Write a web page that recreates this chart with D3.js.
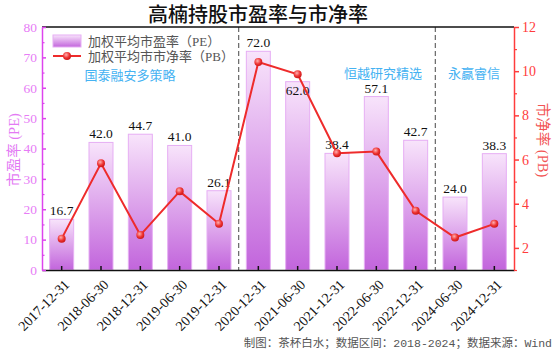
<!DOCTYPE html>
<html lang="zh">
<head>
    <meta charset="utf-8" />
    <title>高楠持股市盈率与市净率</title>
    <style>
        body { margin: 0; background: #fff; }
        .serif { font-family: "Liberation Serif", "Noto Sans CJK SC", serif; }
        .cjk { font-family: "Noto Sans CJK SC", sans-serif; }
    </style>
</head>
<body>
    <div id="graph"></div>
    <script src="https://d3js.org/d3.v7.min.js"></script>
    <script>
        var dates = ["2017-12-31", "2018-06-30", "2018-12-31", "2019-06-30", "2019-12-31", "2020-12-31",
                     "2021-06-30", "2021-12-31", "2022-06-30", "2022-12-31", "2024-06-30", "2024-12-31"];
        var peValues = [16.7, 42.0, 44.7, 41.0, 26.1, 72.0, 62.0, 38.4, 57.1, 42.7, 24.0, 38.3];
        var pbValues = [2.42, 5.83, 2.58, 4.56, 3.09, 10.41, 9.86, 6.29, 6.36, 3.68, 2.47, 3.09];
        var leftTicks = [0, 10, 20, 30, 40, 50, 60, 70, 80];
        var rightTicks = [2, 4, 6, 8, 10, 12];
        var fundNames = ["国泰融安多策略", "恒越研究精选", "永赢睿信"];

        var W = 554, H = 353;
        // plot box (note: "top" is reserved on window, so use pl/pr/pt/pb)
        var pl = 42, pr = 514, pt = 27, pb = 270;

        var svg = d3.select("#graph").append("svg")
            .attr("width", W)
            .attr("height", H);

        var defs = svg.append("defs");
        var barGrad = defs.append("linearGradient")
            .attr("id", "barGrad")
            .attr("x1", 0).attr("y1", 0).attr("x2", 0).attr("y2", 1);
        barGrad.append("stop").attr("offset", "0%").attr("stop-color", "#f8e4fb");
        barGrad.append("stop").attr("offset", "100%").attr("stop-color", "#c265dc");

        var ballGrad = defs.append("radialGradient")
            .attr("id", "ballGrad")
            .attr("cx", "40%").attr("cy", "35%").attr("r", "65%");
        ballGrad.append("stop").attr("offset", "0%").attr("stop-color", "#ffb0b0");
        ballGrad.append("stop").attr("offset", "60%").attr("stop-color", "#ee3333");
        ballGrad.append("stop").attr("offset", "100%").attr("stop-color", "#cc1818");

        var x = d3.scaleBand()
            .domain(dates)
            .range([pl, pr])
            .paddingInner(0.39)
            .paddingOuter(0.195);
        var yL = d3.scaleLinear().domain([0, 80]).range([pb, pt]);
        var yR = d3.scaleLinear().domain([1, 12]).range([pb, pt]);

        // title
        svg.append("text")
            .attr("class", "cjk")
            .attr("x", 258)
            .attr("y", 22)
            .attr("text-anchor", "middle")
            .style("font-size", "20px")
            .style("font-weight", 500)
            .style("fill", "#111")
            .text("高楠持股市盈率与市净率");

        // bars
        svg.selectAll(".bar")
            .data(peValues)
            .enter()
            .append("rect")
            .attr("class", "bar")
            .attr("x", function (d, i) { return x(dates[i]); })
            .attr("width", x.bandwidth())
            .attr("y", function (d) { return yL(d); })
            .attr("height", function (d) { return pb - yL(d); })
            .style("fill", "url(#barGrad)")
            .style("stroke", "#e6aef4")
            .style("stroke-width", 1);

        // value labels (dropped inside the bar when the PB dot sits just above)
        svg.selectAll(".lbl")
            .data(peValues)
            .enter()
            .append("text")
            .attr("class", "lbl serif")
            .attr("x", function (d, i) { return x(dates[i]) + x.bandwidth() / 2; })
            .attr("y", function (d, i) {
                var gap = yL(d) - yR(pbValues[i]);
                return (gap > 3 && gap < 15) ? yL(d) + 13 : yL(d) - 4;
            })
            .attr("text-anchor", "middle")
            .style("font-size", "13.5px")
            .style("fill", "#111")
            .text(function (d) { return d.toFixed(1); });

        // group separators
        [5, 10].forEach(function (k) {
            var sx = (x(dates[k - 1]) + x.bandwidth() + x(dates[k])) / 2;
            svg.append("line")
                .attr("x1", sx).attr("x2", sx)
                .attr("y1", pt).attr("y2", pb)
                .style("stroke", "#666")
                .style("stroke-width", 1.2)
                .style("stroke-dasharray", "5,3");
        });

        // fund names
        var namePos = [[130, 80], [383, 78], [474, 78]];
        fundNames.forEach(function (n, i) {
            svg.append("text")
                .attr("class", "cjk")
                .attr("x", namePos[i][0])
                .attr("y", namePos[i][1])
                .attr("text-anchor", "middle")
                .style("font-size", "13px")
                .style("fill", "#45b2f2")
                .text(n);
        });

        // PB line
        var line = d3.line()
            .x(function (d, i) { return x(dates[i]) + x.bandwidth() / 2; })
            .y(function (d) { return yR(d); });
        svg.append("path")
            .datum(pbValues)
            .attr("d", line)
            .style("fill", "none")
            .style("stroke", "#ee2b2b")
            .style("stroke-width", 2);
        svg.selectAll(".dot")
            .data(pbValues)
            .enter()
            .append("circle")
            .attr("class", "dot")
            .attr("cx", function (d, i) { return x(dates[i]) + x.bandwidth() / 2; })
            .attr("cy", function (d) { return yR(d); })
            .attr("r", 4)
            .style("fill", "url(#ballGrad)");

        // top frame line
        svg.append("line")
            .attr("x1", pl).attr("x2", pr)
            .attr("y1", pt).attr("y2", pt)
            .style("stroke", "#111").style("stroke-width", 1.5);

        // bottom axis
        var xAxis = svg.append("g")
            .attr("class", "serif")
            .attr("transform", "translate(0," + pb + ")")
            .call(d3.axisBottom(x).tickSize(-4).tickSizeOuter(0));
        xAxis.select(".domain").style("stroke", "#111").style("stroke-width", 1.5);
        xAxis.selectAll(".tick line").style("stroke", "#111").style("stroke-width", 1.5);
        xAxis.selectAll(".tick text")
            .attr("y", 0)
            .attr("dy", "0.35em")
            .attr("text-anchor", "end")
            .attr("transform", "translate(5,12) rotate(-45)")
            .style("font-size", "14px")
            .style("font-family", "Liberation Serif")
            .style("fill", "#111");

        // left axis
        var magenta = "#dd44ee";
        var yAxisL = svg.append("g")
            .attr("class", "serif")
            .attr("transform", "translate(" + pl + ",0)")
            .call(d3.axisLeft(yL).tickValues(leftTicks).tickSizeInner(-4).tickSizeOuter(0).tickPadding(5));
        yAxisL.select(".domain").style("stroke", magenta).style("stroke-width", 1.5);
        yAxisL.selectAll(".tick line").style("stroke", magenta).style("stroke-width", 1.5);
        yAxisL.selectAll(".tick text")
            .style("font-size", "13.5px")
            .style("font-family", "Liberation Serif")
            .style("fill", "#e77cf6");
        var minorL = svg.append("g")
            .attr("transform", "translate(" + pl + ",0)")
            .call(d3.axisLeft(yL).tickValues(leftTicks.slice(1).map(function (v) { return v - 5; }))
                .tickSizeInner(-2.5).tickSizeOuter(0).tickFormat(""));
        minorL.select(".domain").remove();
        minorL.selectAll(".tick line").style("stroke", magenta).style("stroke-width", 1.2);

        svg.append("text")
            .attr("transform", "translate(19,150) rotate(-90)")
            .attr("text-anchor", "middle")
            .attr("class", "serif")
            .style("font-size", "14.5px")
            .style("fill", "#e37af4")
            .text("市盈率 (PE)");

        // right axis
        var red = "#ff3c3c";
        var yAxisR = svg.append("g")
            .attr("class", "serif")
            .attr("transform", "translate(" + pr + ",0)")
            .call(d3.axisRight(yR).tickValues(rightTicks).tickSizeInner(5).tickSizeOuter(0).tickPadding(3));
        yAxisR.select(".domain").style("stroke", red).style("stroke-width", 1.5);
        yAxisR.selectAll(".tick line").style("stroke", red).style("stroke-width", 1.5);
        yAxisR.selectAll(".tick text")
            .style("font-size", "14px")
            .style("font-family", "Liberation Serif")
            .style("fill", red);
        var minorR = svg.append("g")
            .attr("transform", "translate(" + pr + ",0)")
            .call(d3.axisRight(yR).tickValues(rightTicks.map(function (v) { return v - 1; }))
                .tickSizeInner(3).tickSizeOuter(0).tickFormat(""));
        minorR.select(".domain").remove();
        minorR.selectAll(".tick line").style("stroke", red).style("stroke-width", 1.2);

        svg.append("text")
            .attr("transform", "translate(538,140) rotate(90)")
            .attr("text-anchor", "middle")
            .attr("class", "serif")
            .style("font-size", "14.5px")
            .style("fill", "#f25454")
            .text("市净率 (PB)");

        // legend
        var legend = svg.append("g").attr("class", "serif");
        legend.append("rect")
            .attr("x", 53).attr("y", 35).attr("width", 28).attr("height", 12)
            .style("fill", "url(#barGrad)")
            .style("stroke", "#e6aef4");
        legend.append("text")
            .attr("x", 88).attr("y", 45.5)
            .style("font-size", "13px")
            .style("fill", "#555")
            .text("加权平均市盈率（PE）");
        legend.append("line")
            .attr("x1", 53).attr("x2", 81).attr("y1", 56).attr("y2", 56)
            .style("stroke", "#ee2b2b").style("stroke-width", 2);
        legend.append("circle")
            .attr("cx", 67).attr("cy", 56).attr("r", 4)
            .style("fill", "url(#ballGrad)");
        legend.append("text")
            .attr("x", 88).attr("y", 60.5)
            .style("font-size", "13px")
            .style("fill", "#555")
            .text("加权平均市市净率（PB）");

        // footer
        svg.append("text")
            .attr("x", 552)
            .attr("y", 347)
            .attr("text-anchor", "end")
            .style("font-family", "\"Liberation Mono\", \"Noto Sans CJK SC\", monospace")
            .style("font-size", "11.5px")
            .style("fill", "#555")
            .text("制图：茶杯白水；数据区间：2018-2024；数据来源：Wind");
    </script>
</body>
</html>
